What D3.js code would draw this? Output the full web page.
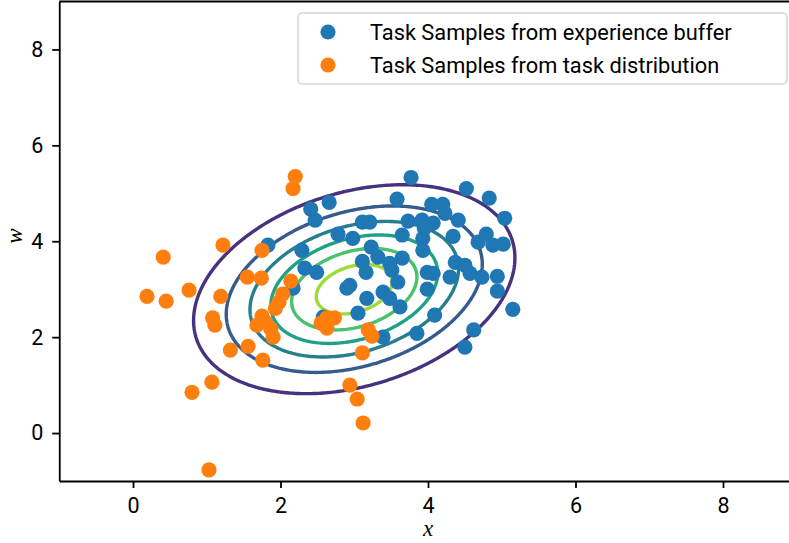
<!DOCTYPE html>
<html>
<head>
    <meta charset='utf-8'>
</head>
<style>
    body { margin: 0; background: #fff; }
    text { font-family: Roboto, sans-serif; fill: #000; }
    .axis path, .axis line { stroke: #000; stroke-width: 1.8px; }
    .axis text { font-size: 21.5px; font-family: Roboto, sans-serif; }
    .contour { fill: none; stroke-width: 3.4px; }
</style>
<body>
    <div id='chart'></div>
    <script src="https://d3js.org/d3.v7.min.js"></script>
    <script>
        // samples from the experience buffer (blue)
        var bufferX = [3.77, 4.52, 4.83, 3.58, 2.66, 2.41, 2.47, 4.05, 4.20, 4.23, 5.04, 4.41, 3.11,
            3.21, 3.73, 3.92, 4.07, 4.34, 2.78, 2.98, 3.65, 3.93, 3.95, 4.79, 4.68, 4.88, 5.02, 2.29,
            3.23, 3.32, 3.65, 3.93, 3.11, 3.48, 2.33, 2.49, 3.16, 3.51, 3.99, 4.07, 4.30, 4.37, 4.50,
            4.57, 4.73, 4.94, 2.94, 2.90, 3.39, 3.48, 3.17, 3.99, 4.94, 3.62, 3.05, 4.09, 2.58, 3.85,
            3.39, 5.15, 4.62, 4.50, 1.83, 2.17, 3.59];
        var bufferY = [5.33, 5.10, 4.90, 4.88, 4.81, 4.67, 4.44, 4.77, 4.77, 4.58, 4.48, 4.44, 4.40,
            4.40, 4.42, 4.44, 4.38, 4.10, 4.15, 4.06, 4.13, 4.06, 4.27, 4.15, 3.98, 3.92, 3.94, 3.81,
            3.88, 3.67, 3.65, 3.81, 3.58, 3.54, 3.44, 3.35, 3.35, 3.40, 3.35, 3.33, 3.25, 3.56, 3.50,
            3.33, 3.25, 3.27, 3.08, 3.02, 2.94, 2.81, 2.81, 3.00, 2.96, 2.63, 2.50, 2.46, 2.42, 2.08,
            2.00, 2.58, 2.15, 1.79, 3.92, 3.02, 3.15];

        // samples from the task distribution (orange)
        var taskX = [2.20, 2.17, 1.22, 0.41, 1.75, 0.19, 0.45, 0.76, 1.19, 1.08, 1.11, 1.32, 1.56,
            1.76, 0.80, 1.07, 1.03, 2.94, 3.04, 3.12, 3.11, 3.19, 3.24, 1.55, 1.74, 2.14, 2.03, 1.98,
            1.93, 1.75, 1.80, 1.68, 1.87, 1.90, 2.63, 2.73, 2.63, 2.55];
        var taskY = [5.35, 5.10, 3.92, 3.67, 3.81, 2.85, 2.75, 2.98, 2.85, 2.40, 2.25, 1.73, 1.81,
            1.52, 0.85, 1.06, -0.77, 1.00, 0.71, 0.21, 1.67, 2.15, 2.02, 3.25, 3.23, 3.17, 2.90, 2.73,
            2.60, 2.44, 2.31, 2.25, 2.17, 2.00, 2.40, 2.40, 2.19, 2.29];

        // gaussian task distribution drawn as contours
        var meanXY = [3, 3];
        var cov = [[1.25, 0.375], [0.375, 1.25]];
        var levels = [0.02, 0.04, 0.06, 0.08, 0.10, 0.12];
        var levelMax = 0.14;

        var xTicks = [0, 2, 4, 6, 8];
        var yTicks = [0, 2, 4, 6, 8];
        var legendLabels = ["Task Samples from experience buffer", "Task Samples from task distribution"];
        var colors = ["#1f77b4", "#ff7f0e"];

        var width = 789, height = 543;
        var mLeft = 59.25, mRight = 796.75, mTop = 1.5, mBottom = 481;

        var svg = d3.select('#chart').append('svg')
            .attr('width', width)
            .attr('height', height);

        var x = d3.scaleLinear().domain([-1, 9]).range([mLeft, mRight]);
        var y = d3.scaleLinear().domain([-1, 9]).range([mBottom, mTop]);

        svg.append('clipPath').attr('id', 'plot')
            .append('rect')
            .attr('x', mLeft).attr('y', mTop)
            .attr('width', mRight - mLeft).attr('height', mBottom - mTop);

        var plot = svg.append('g').attr('clip-path', 'url(#plot)');

        // density grid
        var n = 300;
        var step = 10 / (n - 1);
        var det = cov[0][0] * cov[1][1] - cov[0][1] * cov[1][0];
        var inv = [[cov[1][1] / det, -cov[0][1] / det], [-cov[1][0] / det, cov[0][0] / det]];
        var norm = 1 / (2 * Math.PI * Math.sqrt(det));
        var values = new Array(n * n);
        for (var j = 0; j < n; j++) {
            for (var i = 0; i < n; i++) {
                var dx = -1 + i * step - meanXY[0];
                var dy = -1 + j * step - meanXY[1];
                var q = dx * dx * inv[0][0] + 2 * dx * dy * inv[0][1] + dy * dy * inv[1][1];
                values[j * n + i] = norm * Math.exp(-q / 2);
            }
        }

        var contours = d3.contours().size([n, n]).thresholds(levels)(values);

        var project = d3.geoTransform({
            point: function(gx, gy) {
                this.stream.point(x(-1 + (gx - 0.5) * step), y(-1 + (gy - 0.5) * step));
            }
        });
        var path = d3.geoPath(project);

        plot.selectAll('.contour')
            .data(contours)
            .enter().append('path')
            .attr('class', 'contour')
            .attr('d', path)
            .attr('stroke', function(d) {
                return d3.interpolateViridis(d.value / levelMax);
            });

        var r = 7.6;

        plot.selectAll('.buf')
            .data(bufferX)
            .enter().append('circle')
            .attr('class', 'buf')
            .attr('cx', function(d) { return x(d); })
            .attr('cy', function(d, i) { return y(bufferY[i]); })
            .attr('r', r)
            .attr('fill', colors[0]);

        plot.selectAll('.task')
            .data(taskX)
            .enter().append('circle')
            .attr('class', 'task')
            .attr('cx', function(d) { return x(d); })
            .attr('cy', function(d, i) { return y(taskY[i]); })
            .attr('r', r)
            .attr('fill', colors[1]);

        // axes
        svg.append('g')
            .attr('class', 'axis')
            .attr('transform', 'translate(0,' + mBottom + ')')
            .call(d3.axisBottom(x).tickValues(xTicks).tickSize(7).tickPadding(10).tickSizeOuter(0));

        svg.append('g')
            .attr('class', 'axis')
            .attr('transform', 'translate(' + mLeft + ',0)')
            .call(d3.axisLeft(y).tickValues(yTicks).tickSize(7).tickPadding(9).tickSizeOuter(0));

        svg.append('line')
            .attr('x1', mLeft).attr('x2', mRight)
            .attr('y1', mTop).attr('y2', mTop)
            .attr('stroke', '#000').attr('stroke-width', 1.8);

        // axis labels
        svg.append('text')
            .attr('x', x(4))
            .attr('y', 536)
            .attr('text-anchor', 'middle')
            .style('font-family', '"Liberation Serif", serif')
            .style('font-style', 'italic')
            .style('font-size', '23px')
            .text('x');

        svg.append('text')
            .attr('transform', 'translate(22,236) rotate(-90)')
            .attr('text-anchor', 'middle')
            .style('font-family', '"Liberation Serif", serif')
            .style('font-style', 'italic')
            .style('font-size', '23px')
            .text('w');

        // legend
        var legend = svg.append('g').attr('class', 'legend');
        legend.append('rect')
            .attr('x', 298).attr('y', 13)
            .attr('width', 489).attr('height', 71)
            .attr('rx', 4)
            .attr('fill', 'rgba(255,255,255,0.8)')
            .attr('stroke', '#d5d5d5')
            .attr('stroke-width', 1.5);

        var items = legend.selectAll('.item')
            .data(legendLabels)
            .enter().append('g')
            .attr('class', 'item')
            .attr('transform', function(d, i) { return 'translate(0,' + (32 + i * 33) + ')'; });

        items.append('circle')
            .attr('cx', 328)
            .attr('r', r)
            .attr('fill', function(d, i) { return colors[i]; });

        items.append('text')
            .attr('x', 370)
            .attr('dy', '0.35em')
            .style('font-size', '21.8px')
            .text(function(d) { return d; });
    </script>
</body>
</html>
